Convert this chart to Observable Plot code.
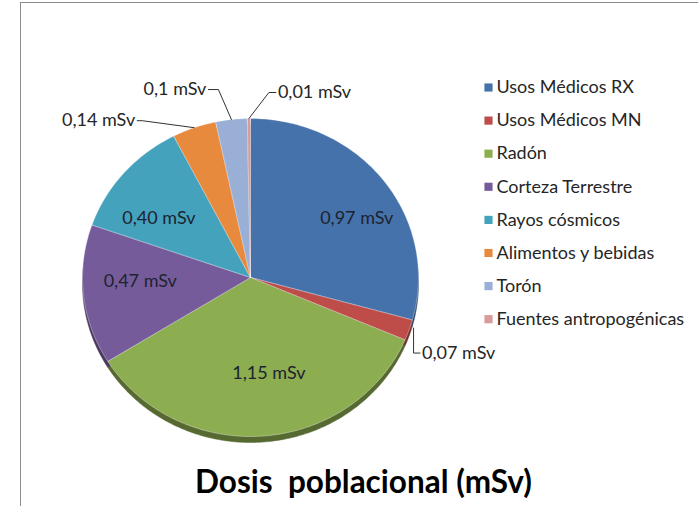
<!DOCTYPE html>
<html><head><meta charset="utf-8">
<script src="https://cdn.jsdelivr.net/npm/d3@7"></script>
<script src="https://cdn.jsdelivr.net/npm/@observablehq/plot@0.6"></script>
<style>
html,body{margin:0;padding:0;background:#fff;}
#chart{position:relative;width:698px;height:506px;overflow:hidden;}
#frame{position:absolute;left:20px;top:2px;width:700px;height:600px;border-left:1.5px solid #8c8c8c;border-top:1.5px solid #8c8c8c;pointer-events:none;}
#chart svg{position:absolute;left:0;top:0;}
</style></head><body><div id="chart"><div id="frame"></div></div>
<script>
// ---- data ----
const categories = ["Usos Médicos RX","Usos Médicos MN","Radón","Corteza Terrestre","Rayos cósmicos","Alimentos y bebidas","Torón","Fuentes antropogénicas"];
const values = [0.97, 0.07, 1.15, 0.47, 0.40, 0.14, 0.1, 0.01];
const valueLabels = ["0,97 mSv","0,07 mSv","1,15 mSv","0,47 mSv","0,40 mSv","0,14 mSv","0,1 mSv","0,01 mSv"];
const colors = ["#4572aa","#be4d4a","#8cad50","#765b9b","#44a2bd","#e88a3e","#9aafd5","#d89b9a"];
const titleText = "Dosis  poblacional (mSv)";

// ---- layout ----
const W = 698, H = 506;
const cx = 250, cy = 277, rx = 168, ry = 159, depth = 6;
const inside = {0:[18,4], 2:[10,-9], 3:[0,-8], 4:[-8,10]};   // inside labels: pixel nudges
const leaders = {                      // outside labels: offsets from slice edge
  1: {start:[4.5,-2], elbow:[4.5,23], end:[11,23], anchor:"start"},
  5: {start:[0,0], elbow:[-52,-7], end:[-57,-7], anchor:"end"},
  6: {start:[0,0], elbow:[-13,-30], end:[-23,-30], anchor:"end"},
  7: {start:[0,0], elbow:[20,-26], end:[27,-26], anchor:"start"}
};

const arcs = d3.pie().sort(null).startAngle(0).endAngle(2*Math.PI)(values);
const pt = (a, k, oy=0) => ({x: cx + k*rx*Math.sin(a), y: cy - k*ry*Math.cos(a) + oy});

function slicePts(arc, i, oy) {
  const pts = [{...pt(0,0,oy), i}];
  const n = Math.max(2, Math.ceil((arc.endAngle - arc.startAngle) / (Math.PI/180)));
  for (let j = 0; j <= n; j++) {
    const a = arc.startAngle + (arc.endAngle - arc.startAngle) * j / n;
    pts.push({...pt(a,1,oy), i});
  }
  pts.push({...pt(0,0,oy), i});
  return pts;
}

const marks = [];
// 3D rim (offset copy, darker)
arcs.forEach((arc, i) => {
  const dk = d3.color(colors[i]).darker(1.4).formatHex();
  marks.push(Plot.line(slicePts(arc, i, depth), {x:"x", y:"y", fill: dk, stroke: dk, strokeWidth: 0.5}));
});
// top surface
arcs.forEach((arc, i) => {
  marks.push(Plot.line(slicePts(arc, i, 0), {x:"x", y:"y", fill: colors[i], stroke: "rgba(255,255,255,0.45)", strokeWidth: 0.8}));
});

// inside labels
const inLab = Object.entries(inside).map(([k, off]) => {
  const i = +k;
  const m = (arcs[i].startAngle + arcs[i].endAngle)/2;
  const p = pt(m, 0.66);
  return {x: p.x + off[0], y: p.y + off[1], text: valueLabels[i]};
});
marks.push(Plot.text(inLab, {x:"x", y:"y", text:"text", fill:"#1d2330", fontSize:18}));

// outside labels with leader lines
const leadPts = [], outLab = [];
Object.entries(leaders).forEach(([k, L]) => {
  const i = +k;
  const m = (arcs[i].startAngle + arcs[i].endAngle)/2;
  const e = pt(m, 1);
  [L.start, L.elbow, L.end].forEach(o => leadPts.push({x: e.x + o[0], y: e.y + o[1], i}));
  outLab.push({x: e.x + L.end[0] + (L.anchor === "end" ? -2 : 2), y: e.y + L.end[1], text: valueLabels[i], anchor: L.anchor});
});
marks.push(Plot.line(leadPts, {x:"x", y:"y", z:"i", stroke:"#333", strokeWidth:1}));
marks.push(Plot.text(outLab.filter(d => d.anchor==="end"), {x:"x", y:"y", text:"text", textAnchor:"end", fill:"#262626", fontSize:18}));
marks.push(Plot.text(outLab.filter(d => d.anchor==="start"), {x:"x", y:"y", text:"text", textAnchor:"start", fill:"#262626", fontSize:18}));

// legend
const legX = 488, legY0 = 87, legStep = 33.1;
const leg = categories.map((c, i) => ({c, x: legX, y: legY0 + i*legStep, col: colors[i]}));
marks.push(Plot.dot(leg, {x:"x", y:"y", symbol:"square", r:4.6, fill:"col", stroke:"none"}));
marks.push(Plot.text(leg, {x: d => d.x + 8, y:"y", text:"c", textAnchor:"start", fill:"#262626", fontSize:18}));

// title
marks.push(Plot.text([titleText], {x: () => 363, y: () => 482, text: d => d, fontSize: 31.5, fontWeight: "bold", fill:"#000"}));

const svg = Plot.plot({
  width: W, height: H, margin: 0,
  x: {domain:[0, W], range:[0, W], axis: null},
  y: {domain:[0, H], range:[0, H], axis: null},
  color: {type: "identity"},
  style: {fontFamily: "Lato, 'Open Sans', sans-serif", background: "transparent", overflow: "visible"},
  marks
});
document.getElementById("chart").appendChild(svg);
</script>
</body></html>
